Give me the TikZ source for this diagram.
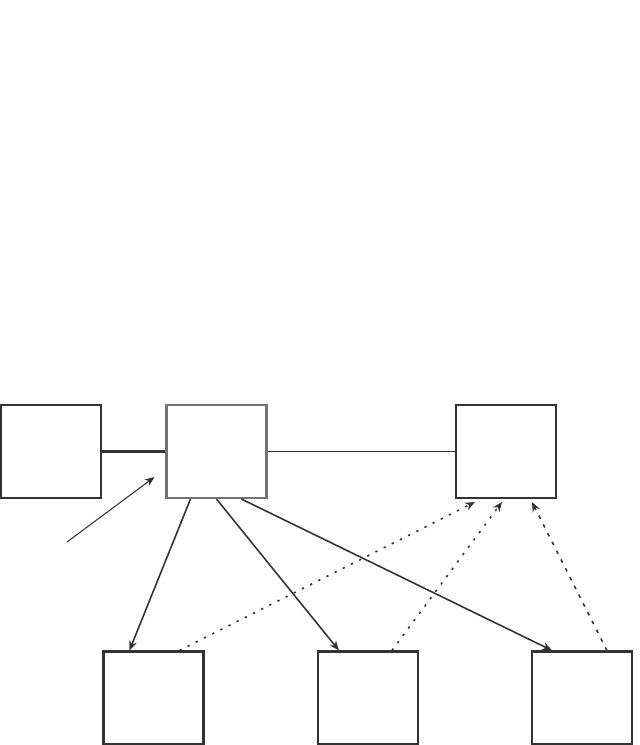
\documentclass[tikz,border=0pt]{standalone}
\usepackage{tikz}
\usetikzlibrary{arrows.meta,positioning,calc}

\begin{document}
\begin{tikzpicture}[
  box/.style={draw=black!80,line width=1.2pt,minimum width=2cm,minimum height=1.86cm,inner sep=0pt},
  hub/.style={box,draw=black!55},
  arrow/.style={-{Stealth[length=5.5pt,width=4.5pt]},line width=0.9pt,draw=black!80},
  back/.style={arrow,dash pattern=on 1.3pt off 3.9pt},
  backdash/.style={arrow,dash pattern=on 2pt off 3.6pt}
]
\useasboundingbox (0,0) rectangle (12.78,14.9);

% top row
\node[box] (src) at (1.02,5.87) {};
\node[hub] (hub) at (4.33,5.87) {};
\node[box] (sink) at (10.12,5.87) {};

% bottom row
\node[box] (leafa) at (3.07,0.94) {};
\node[box] (leafb) at (7.36,0.94) {};
\node[box] (leafc) at (11.64,0.94) {};

\draw[line width=1.4pt,black!80] (src.east) -- (hub.west);
\draw[line width=0.8pt,black!80] (hub.east) -- (sink.west);

\coordinate (ext) at (1.34,4.06);
\draw[arrow,line width=0.6pt] (ext) -- ([xshift=-0.22cm,yshift=0.44cm]hub.south west);

\draw[arrow] ([xshift=0.5cm]hub.south west) -- ([xshift=0.54cm]leafa.north west);
\draw[arrow] (hub.south) -- ([xshift=0.44cm]leafb.north west);
\draw[arrow] ([xshift=1.52cm]hub.south west) -- ([xshift=0.42cm]leafc.north west);

\draw[back] ([xshift=1.54cm]leafa.north west) -- ([xshift=0.4cm,yshift=-0.06cm]sink.south west);
\draw[back] ([xshift=1.5cm]leafb.north west) -- ([xshift=0.94cm,yshift=-0.06cm]sink.south west);
\draw[backdash] ([xshift=1.52cm]leafc.north west) -- ([xshift=1.54cm,yshift=-0.06cm]sink.south west);
\end{tikzpicture}
\end{document}
